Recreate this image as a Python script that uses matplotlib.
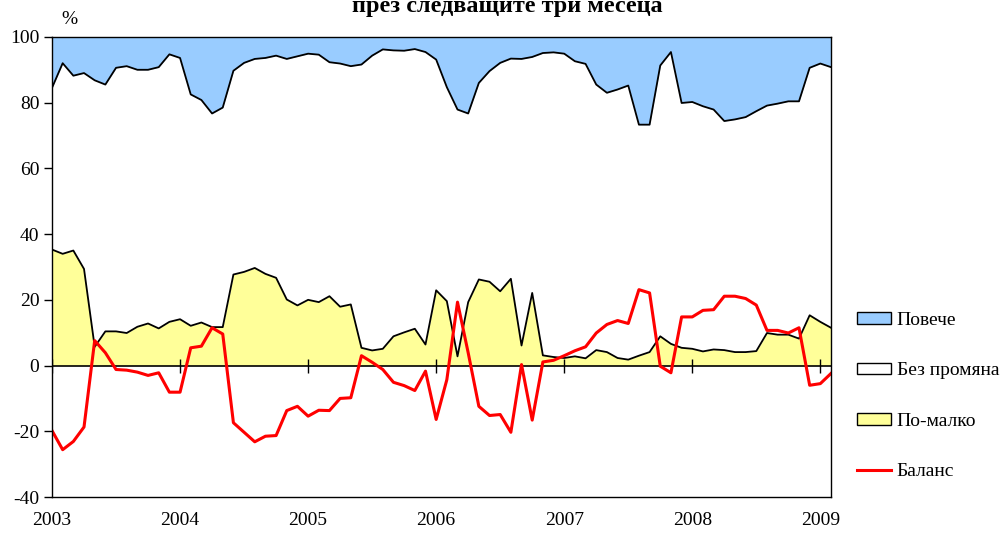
import matplotlib
matplotlib.use("Agg")
import matplotlib.pyplot as plt
from matplotlib.patches import Patch
from matplotlib.lines import Line2D
import numpy as np

plt.rcParams['font.family'] = ['Liberation Serif', 'DejaVu Serif']
plt.rcParams['axes.unicode_minus'] = False

# Monthly data, Jan 2003 .. Feb 2009
upper = [84.5, 92.0, 88.2, 89.0, 86.8, 85.5, 90.6, 91.1, 90.0, 90.0,
         90.8, 94.7, 93.6, 82.5, 80.8, 76.7, 78.5, 89.7, 92.1, 93.3,
         93.6, 94.3, 93.3, 94.1, 94.9, 94.6, 92.3, 91.9, 91.1, 91.6,
         94.3, 96.2, 95.9, 95.8, 96.3, 95.4, 93.1, 84.7, 77.9, 76.7,
         86.0, 89.6, 92.1, 93.4, 93.3, 93.9, 95.1, 95.3, 94.9, 92.6,
         91.8, 85.5, 83.0, 84.0, 85.2, 73.3, 73.3, 91.3, 95.4, 79.9,
         80.2, 78.9, 77.9, 74.4, 74.9, 75.6, 77.4, 79.1, 79.7, 80.4,
         80.4, 90.6, 91.9, 90.8]          # top of "Без промяна" (100 - Повече)
less = [35.3, 34.0, 35.0, 29.4, 5.7, 10.4, 10.4, 9.9, 11.8, 12.8,
        11.3, 13.3, 14.1, 12.1, 13.1, 11.7, 11.7, 27.7, 28.5, 29.7,
        27.9, 26.7, 20.1, 18.3, 20.0, 19.3, 21.1, 17.9, 18.6, 5.4,
        4.6, 5.1, 8.9, 10.1, 11.2, 6.4, 22.9, 19.6, 2.8, 19.3,
        26.2, 25.5, 22.6, 26.4, 6.1, 22.1, 3.1, 2.6, 2.3, 2.8,
        2.2, 4.7, 4.1, 2.3, 1.8, 3.0, 4.1, 8.9, 6.6, 5.4,
        5.1, 4.3, 4.9, 4.7, 4.1, 4.1, 4.4, 9.9, 9.4, 9.4,
        8.2, 15.3, 13.3, 11.5]             # "По-малко"
balance = [-19.8, -25.6, -23.1, -18.7, 7.6, 3.9, -1.2, -1.4, -2.0, -3.0,
           -2.2, -8.1, -8.1, 5.4, 5.9, 11.5, 9.6, -17.4, -20.3, -23.2,
           -21.5, -21.3, -13.7, -12.4, -15.4, -13.6, -13.7, -10.0, -9.8, 3.0,
           1.0, -1.2, -5.1, -6.1, -7.6, -1.7, -16.4, -4.3, 19.3, 3.9,
           -12.4, -15.2, -14.9, -20.3, 0.3, -16.6, 1.1, 1.6, 3.0, 4.5,
           5.7, 9.9, 12.5, 13.7, 12.8, 23.1, 22.1, -0.2, -2.2, 14.8,
           14.8, 16.8, 17.0, 21.1, 21.1, 20.4, 18.4, 10.7, 10.7, 9.9,
           11.5, -6.0, -5.5, -2.4]
year_labels = ['2003', '2004', '2005', '2006', '2007', '2008', '2009']
legend_labels = ['Повече', 'Без промяна', 'По-малко', 'Баланс']
title = 'през следващите три месеца'

months = np.arange(len(upper))
year_ticks = np.arange(len(year_labels)) * 12

fig = plt.figure(figsize=(10, 5.35), dpi=100)
ax = fig.add_axes([0.052, 0.071, 0.779, 0.860])

ax.fill_between(months, 0, less, color='#FFFF99', lw=0)
ax.fill_between(months, less, upper, color='white', lw=0)
ax.fill_between(months, upper, 100, color='#99CCFF', lw=0)
ax.plot(months, less, color='black', lw=1.3)
ax.plot(months, upper, color='black', lw=1.3)
ax.axhline(0, color='black', lw=1.2)
ax.plot(year_ticks, np.zeros(len(year_ticks)), ls='none', marker='|',
        ms=10, mew=1.0, color='black')
ax.plot(months, balance, color='#FF0000', lw=2.2)

ax.set_xlim(0, len(upper) - 1)
ax.set_ylim(-40, 100)
ax.set_yticks(range(-40, 101, 20))
ax.set_xticks(year_ticks)
ax.set_xticklabels(year_labels)
ax.tick_params(axis='x', length=0, pad=11, labelsize=14)
ax.tick_params(axis='y', direction='out', length=6, width=1, labelsize=14, pad=3)
for s in ax.spines.values():
    s.set_linewidth(1.0)

fig.text(0.507, 1 - 12 / 535, title, ha='center', va='baseline',
         fontsize=17.5, fontweight='bold')
fig.text(0.069, 1 - 19 / 535, '%', ha='center', va='center', fontsize=14)

handles = [Patch(fc='#99CCFF', ec='black', lw=1),
           Patch(fc='white', ec='black', lw=1),
           Patch(fc='#FFFF99', ec='black', lw=1),
           Line2D([], [], color='#FF0000', lw=2.2)]
fig.legend(handles, legend_labels, loc='upper left',
           bbox_to_anchor=(857 / 1000, 1 - 312 / 535), frameon=False,
           fontsize=14, handlelength=1.75, handleheight=0.55,
           handletextpad=0.3, labelspacing=1.72, borderaxespad=0,
           borderpad=0)

fig.savefig('out.png', dpi=100)
